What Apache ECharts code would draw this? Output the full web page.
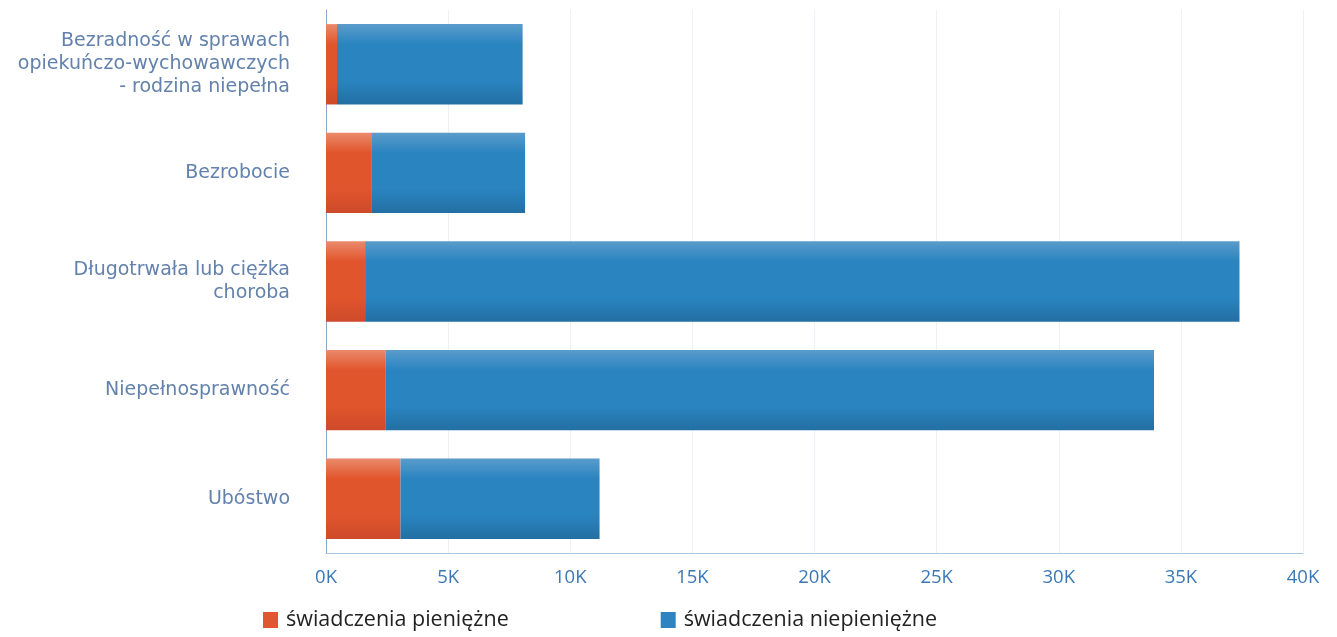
<!DOCTYPE html>
<html>
<head>
<meta charset="utf-8">
<script src="https://cdn.jsdelivr.net/npm/echarts@6/dist/echarts.min.js"></script>
<style>html,body{margin:0;padding:0;background:#fff;}#c{width:1337px;height:637px;}</style>
</head>
<body>
<div id="c"></div>
<script>
const categories = [
  "Bezradność w sprawach\nopiekuńczo-wychowawczych\n- rodzina niepełna",
  "Bezrobocie",
  "Długotrwała lub ciężka\nchoroba",
  "Niepełnosprawność",
  "Ubóstwo"
];
const seriesNames = ["świadczenia pieniężne", "świadczenia niepieniężne"];
const pieniezne = [450, 1850, 1600, 2450, 3050];
const niepieniezne = [7600, 6300, 35800, 31450, 8150];

const grad = (a, b, c) => new echarts.graphic.LinearGradient(0, 0, 0, 1, [
  {offset: 0, color: a}, {offset: 0.25, color: b}, {offset: 0.7, color: b}, {offset: 1, color: c}
]);
const orange = grad('#ea8a6c', '#e1552c', '#cd4a2a');
const blue = grad('#5a9ccb', '#2a84c0', '#226fa3');

const chart = echarts.init(document.getElementById('c'), null, {renderer: 'canvas'});
chart.setOption({
  animation: false,
  backgroundColor: '#ffffff',
  grid: {left: 326, right: 34, top: 10, bottom: 84, containLabel: false},
  legend: {
    bottom: 1, left: 258,
    itemWidth: 15, itemHeight: 16, itemGap: 152,
    icon: 'rect',
    textStyle: {fontFamily: 'Open Sans', fontSize: 21.5, color: '#222', padding: [0, 0, 0, 3]},
    data: [
      {name: seriesNames[0], itemStyle: {color: '#e0582f'}},
      {name: seriesNames[1], itemStyle: {color: '#2f84bf'}}
    ]
  },
  xAxis: {
    type: 'value', min: 0, max: 40000, interval: 5000,
    axisLine: {show: true, lineStyle: {color: '#a9c8e6', width: 1}},
    axisTick: {show: false},
    splitLine: {show: true, lineStyle: {color: '#edf1f6', width: 1}},
    axisLabel: {
      margin: 15, fontFamily: 'Open Sans', fontSize: 18.5, color: '#3a78b5',
      formatter: v => (v / 1000) + 'K'
    }
  },
  yAxis: {
    type: 'category', data: categories, inverse: true,
    axisLine: {show: true, lineStyle: {color: '#8aa4cc', width: 1}},
    axisTick: {show: false},
    splitLine: {show: false},
    axisLabel: {
      margin: 36, fontFamily: 'DejaVu Sans', fontSize: 19, color: '#6281ac',
      lineHeight: 23, align: 'right'
    }
  },
  series: [
    {name: seriesNames[0], type: 'bar', stack: 's', data: pieniezne,
     barCategoryGap: '26%', itemStyle: {color: orange}},
    {name: seriesNames[1], type: 'bar', stack: 's', data: niepieniezne,
     barCategoryGap: '26%', itemStyle: {color: blue}}
  ]
});
</script>
</body>
</html>
